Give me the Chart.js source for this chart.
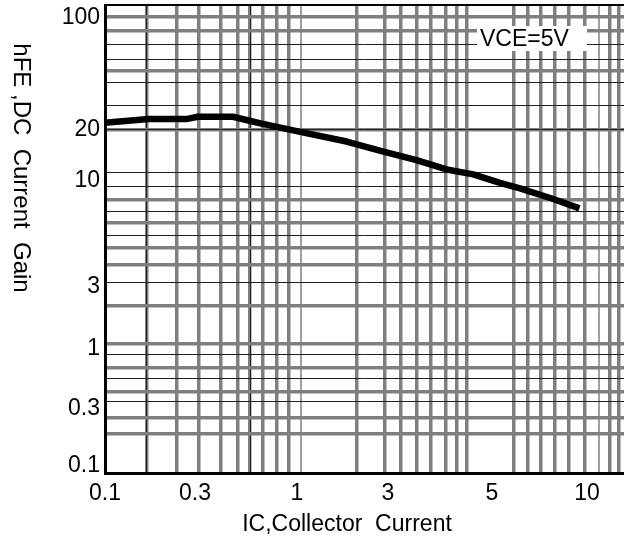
<!DOCTYPE html>
<html><head><meta charset="utf-8">
<script src="https://cdn.jsdelivr.net/npm/chart.js@4"></script>
<style>html,body{margin:0;padding:0;background:#fff}</style>
</head><body>
<canvas id="c" width="624" height="547"></canvas>
<script>
// ---- data ----
const collectorCurrent = [0.1, 0.17, 0.27, 0.31, 0.47, 0.55, 0.65, 1.04, 1.82, 2.84, 3.45, 4.0, 4.56, 5.3, 6.13, 7.82, 9.46];
const dcCurrentGain    = [22.2, 23.4, 23.4, 24.2, 24.2, 23.1, 22.0, 19.5, 17.1, 14.9, 13.3, 11.7, 10.95, 9.8, 9.2, 8.15, 7.33];
const xTickValues = [0.1, 0.3, 1, 3, 5, 10];
const xTickLabels = ['0.1', '0.3', '1', '3', '5', '10'];
const yTickValues = [0.1, 0.3, 1, 3, 10, 20, 100];
const yTickLabels = ['0.1', '0.3', '1', '3', '10', '20', '100'];
const xTitle = 'IC,Collector  Current';
const yTitle = 'hFE ,DC  Current  Gain';
const noteText = 'VCE=5V';

// ---- layout (positions along axes as fractions of plot area) ----
const xTickPos = [0, 0.1734, 0.3699, 0.5453, 0.7457, 0.9287];
const yTickPos = [0.0150, 0.1368, 0.2650, 0.3974, 0.6239, 0.7329, 0.9722];
const gridX = [[0.0803,'g'],[0.0803,'d'],[0.1382,'g'],[0.1811,'g'],[0.2235,'g'],[0.2563,'g'],[0.2794,'g'],[0.2794,'d'],
  [0.3044,'g'],[0.3308,'g'],[0.3545,'g'],[0.3771,'l'],[0.4850,'g'],[0.5395,'g'],[0.5703,'g'],[0.6006,'g'],[0.6276,'g'],
  [0.6557,'g'],[0.6776,'g'],[0.6969,'g'],[0.7867,'g'],[0.8137,'g'],[0.8401,'g'],[0.8671,'g'],[0.8934,'g'],[0.9249,'g'],
  [0.9524,'l'],[0.9717,'g'],[0.9890,'g']];
const gridY = [[0.9750,'g'],[0.9444,'g'],[0.9160,'d'],[0.8840,'d'],[0.8590,'g'],[0.8340,'d'],[0.7863,'d'],[0.7344,'g'],[0.7344,'d'],
  [0.6417,'d'],[0.6118,'d'],[0.5848,'g'],[0.5598,'d'],[0.5348,'g'],[0.5085,'d'],[0.4814,'g'],[0.4444,'g'],[0.4066,'d'],
  [0.3568,'g'],[0.2771,'g'],[0.2536,'d'],[0.2259,'g'],[0.2024,'d'],[0.1737,'g'],[0.1538,'d'],[0.1182,'g'],[0.0833,'g']];
const gridStyle = { g: { color: '#7f7f7f', width: 3.5 }, d: { color: '#222', width: 1 }, l: { color: '#a0a0a0', width: 2 } };
const FONT = '"Liberation Sans", Arial, sans-serif';

// ---- custom scale: piecewise logarithmic between anchor ticks ----
class AnchorLogScale extends Chart.Scale {
  static id = 'anchorlog';
  static defaults = {};
  _frac(v) {
    const vals = this.options.anchorValues, pos = this.options.anchorPos;
    const lv = Math.log10(v);
    let i = 0;
    while (i < vals.length - 2 && lv > Math.log10(vals[i + 1])) i++;
    const l0 = Math.log10(vals[i]), l1 = Math.log10(vals[i + 1]);
    return pos[i] + (lv - l0) / (l1 - l0) * (pos[i + 1] - pos[i]);
  }
  _inv(f) {
    const vals = this.options.anchorValues, pos = this.options.anchorPos;
    let i = 0;
    while (i < pos.length - 2 && f > pos[i + 1]) i++;
    const l0 = Math.log10(vals[i]), l1 = Math.log10(vals[i + 1]);
    return Math.pow(10, l0 + (f - pos[i]) / (pos[i + 1] - pos[i]) * (l1 - l0));
  }
  determineDataLimits() { this.min = this._inv(0); this.max = this._inv(1); }
  buildTicks() { return this.options.anchorValues.map(v => ({ value: v })); }
  getLabelForValue(v) { return String(v); }
  getPixelForValue(v) { return this.getPixelForDecimal(this._frac(v)); }
  getPixelForTick(i) { return this.getPixelForValue(this.ticks[i].value); }
  getValueForPixel(p) { return this._inv(this.getDecimalForPixel(p)); }
}
Chart.register(AnchorLogScale);

const textPlugin = {
  id: 'texts',
  afterDraw(chart) {
    const { ctx } = chart;
    ctx.save();
    ctx.fillStyle = '#000';
    ctx.font = '23px ' + FONT;
    ctx.textAlign = 'center';
    ctx.textBaseline = 'middle';
    ctx.fillText(xTitle, 347, 525);
    ctx.save();
    ctx.translate(21, 168);
    ctx.rotate(Math.PI / 2);
    ctx.font = '24px ' + FONT;
    ctx.fillText(yTitle, 0, 0);
    ctx.restore();
    ctx.fillStyle = '#fff';
    ctx.fillRect(477, 26, 110, 25);
    ctx.fillStyle = '#000';
    ctx.textAlign = 'left';
    ctx.fillText(noteText, 480, 40);
    ctx.restore();
  }
};

const tickFont = { family: FONT, size: 23 };
const noPad = s => { s.paddingTop = 0; s.paddingBottom = 0; s.paddingLeft = 0; s.paddingRight = 0; };
new Chart(document.getElementById('c'), {
  type: 'line',
  data: {
    datasets: [{
      data: collectorCurrent.map((x, i) => ({ x, y: dcCurrentGain[i] })),
      borderColor: '#000', borderWidth: 6.5, pointRadius: 0, tension: 0,
      borderJoinStyle: 'round', borderCapStyle: 'butt', xAxisID: 'x', yAxisID: 'y'
    }]
  },
  options: {
    responsive: false, animation: false, devicePixelRatio: 1,
    layout: { padding: { top: 5, left: 0, right: 0, bottom: 0 } },
    plugins: { legend: { display: false }, tooltip: { enabled: false } },
    scales: {
      x: {
        type: 'anchorlog', position: 'bottom', anchorValues: xTickValues, anchorPos: xTickPos,
        grid: { display: false, drawTicks: false, tickLength: 0 },
        border: { display: true, color: '#000', width: 3 },
        ticks: { callback: (v, i) => xTickLabels[i], font: tickFont, color: '#000', padding: 7, maxRotation: 0, autoSkip: false },
        afterFit: s => { s.height = 74; noPad(s); }
      },
      y: {
        type: 'anchorlog', position: 'left', anchorValues: yTickValues, anchorPos: yTickPos,
        grid: { display: false, drawTicks: false, tickLength: 0 },
        border: { display: true, color: '#000', width: 3 },
        ticks: { callback: (v, i) => yTickLabels[i], font: tickFont, color: '#000', padding: 5, autoSkip: false },
        afterFit: s => { s.width = 105; noPad(s); }
      },
      gx: {
        type: 'linear', position: 'top', min: 0, max: 1,
        afterBuildTicks: s => { s.ticks = gridX.map(g => ({ value: g[0] })); },
        ticks: { display: false },
        grid: { drawTicks: false, tickLength: 0,
          color: c => gridStyle[gridX[c.index][1]].color,
          lineWidth: c => gridStyle[gridX[c.index][1]].width },
        border: { display: true, color: '#000', width: 2 },
        afterFit: s => { s.height = 0; noPad(s); }
      },
      gy: {
        type: 'linear', position: 'right', min: 0, max: 1,
        afterBuildTicks: s => { s.ticks = gridY.map(g => ({ value: g[0] })); },
        ticks: { display: false },
        grid: { drawTicks: false, tickLength: 0,
          color: c => gridStyle[gridY[c.index][1]].color,
          lineWidth: c => gridStyle[gridY[c.index][1]].width },
        border: { display: false },
        afterFit: s => { s.width = 0; noPad(s); }
      }
    }
  },
  plugins: [textPlugin]
});
</script>
</body></html>
